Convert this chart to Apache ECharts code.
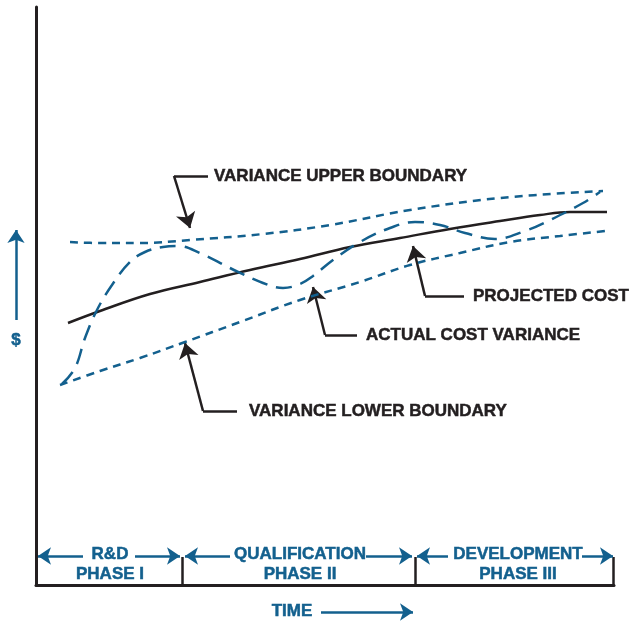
<!DOCTYPE html>
<html lang="en">
<head>
    <meta charset="UTF-8">
    <title>Cost variance</title>
    <style>
        html, body { margin: 0; height: 100%; background: #fff; overflow: hidden; }
        #main { width: 632px; height: 622px; }
    </style>
</head>
<body>
    <div id="main"></div>
    <script src="https://cdn.jsdelivr.net/npm/echarts@6/dist/echarts.min.js"></script>
    <script type="text/javascript">
        // x = time, y = cost (no scale on the original)
        const upperBoundary = [[34,343],[64,342],[104,342],[154,345],[227,351],[294,360],[374,375],[464,387],[567,394]]
        const lowerBoundary = [[24,200],[64,214],[104,227],[149,243],[204,263],[264,285],[324,303],[374,320],[424,332],[474,343],[524,349],[569,354]]
        const projectedCost = [[32,262],[64,274],[114,291],[164,303],[214,315],[264,326],[314,338],[364,347],[414,356],[464,364],[504,370],[534,373],[571,373]]
        const actualCost = [[26,201],[39,217],[49,247],[61,275],[76,300],[94,323],[109,333],[127,338],[142,339],[164,332],[194,317],[227,302],[247,297],[264,301],[277,309],[297,325],[324,343],[354,357],[379,363],[404,360],[429,352],[459,346],[489,354],[514,365],[547,382],[564,393]]

        // phases along the time axis
        const phaseEnds = [146, 379, 577]
        const phaseTop = ['R&D', 'QUALIFICATION', 'DEVELOPMENT']
        const phaseBottom = ['PHASE I', 'PHASE II', 'PHASE III']
        const phaseCenters = [74, 264, 482]

        // callouts: text, leader (start, elbow, tip)
        const callouts = [
            { text: 'VARIANCE UPPER BOUNDARY', at: [178, 409], leader: [[172,409],[138,409],[154,357]] },
            { text: 'PROJECTED COST', at: [437, 289], leader: [[428,289],[389,289],[377,339]] },
            { text: 'ACTUAL COST VARIANCE', at: [330, 250], leader: [[321,250],[289,250],[277,298]] },
            { text: 'VARIANCE LOWER BOUNDARY', at: [213, 174], leader: [[201,174],[167,174],[149,242]] }
        ]

        const BLUE = '#13608e'
        const INK = '#231f20'
        const FONT = 'bold 17px "Liberation Sans", Arial, sans-serif'

        var myChart = echarts.init(document.getElementById('main'));

        // blue phase arrows, each [from, tip]
        const phaseArrows = [
            [[47,29],[2,29]], [[99,29],[144,29]],
            [[194,29],[149,29]], [[330,29],[376,29]],
            [[412,29],[381,29]], [[546,29],[577,29]]
        ]

        var option = {
            animation: false,
            grid: { left: 36, right: 18, top: 7, bottom: 37 },
            xAxis: {
                type: 'value', min: 0, max: 578,
                axisLine: { show: true, onZero: false, lineStyle: { color: INK, width: 3 } },
                axisTick: { show: false }, axisLabel: { show: false }, splitLine: { show: false }
            },
            yAxis: {
                type: 'value', min: 0, max: 578,
                axisLine: { show: true, onZero: false, lineStyle: { color: INK, width: 3 } },
                axisTick: { show: false }, axisLabel: { show: false }, splitLine: { show: false }
            },
            series: [
                {
                    name: 'upper', type: 'line', data: upperBoundary, smooth: 0.4, showSymbol: false,
                    lineStyle: { color: BLUE, width: 2.5, type: [8, 6] }
                },
                {
                    name: 'lower', type: 'line', data: lowerBoundary, smooth: 0.4, showSymbol: false,
                    lineStyle: { color: BLUE, width: 2.5, type: [8, 6] }
                },
                {
                    name: 'projected', type: 'line', data: projectedCost, smooth: 0.4, showSymbol: false,
                    lineStyle: { color: INK, width: 2.5 }
                },
                {
                    name: 'actual', type: 'line', data: actualCost, smooth: 0.4, showSymbol: false,
                    lineStyle: { color: BLUE, width: 2.5, type: [16, 9] }
                },
                {
                    // phase dividers
                    type: 'lines', coordinateSystem: 'cartesian2d', clip: false,
                    lineStyle: { color: INK, width: 2.5, opacity: 1 },
                    data: phaseEnds.map(x => ({ coords: [[x, 0], [x, 28]] }))
                },
                {
                    type: 'lines', coordinateSystem: 'cartesian2d', clip: false,
                    symbol: ['none', 'arrow'], symbolSize: [11, 13],
                    lineStyle: { color: BLUE, width: 2.5, opacity: 1 },
                    data: phaseArrows.map(a => ({ coords: a }))
                        .concat([{ coords: [[285, -27], [377, -27]] }, { coords: [[-20, 265], [-20, 355]] }])
                },
                {
                    // callout leaders: flat part
                    type: 'lines', coordinateSystem: 'cartesian2d', clip: false,
                    lineStyle: { color: INK, width: 2.5, opacity: 1 },
                    data: callouts.map(c => ({ coords: [c.leader[0], c.leader[1]] }))
                },
                {
                    // callout leaders: slanted part with arrow head
                    type: 'lines', coordinateSystem: 'cartesian2d', clip: false,
                    symbol: ['none', 'arrow'], symbolSize: [12, 15],
                    lineStyle: { color: INK, width: 2.5, opacity: 1 },
                    data: callouts.map(c => ({ coords: [c.leader[1], c.leader[2]] }))
                }
            ]
        };
        myChart.setOption(option);

        // texts placed through the grid's own scale
        const px = p => myChart.convertToPixel({ gridIndex: 0 }, p)
        const graphics = []
        callouts.forEach(c => {
            const p = px(c.at)
            graphics.push({ type: 'text', x: p[0], y: p[1], style: { text: c.text, font: FONT, fill: INK, stroke: INK, lineWidth: 0.5, verticalAlign: 'middle' } })
        })
        phaseCenters.forEach((cx, i) => {
            const a = px([cx, 31]), b = px([cx, 11])
            graphics.push({ type: 'text', x: a[0], y: a[1], style: { text: phaseTop[i], font: FONT, fill: BLUE, stroke: BLUE, lineWidth: 0.5, align: 'center', verticalAlign: 'middle' } })
            graphics.push({ type: 'text', x: b[0], y: b[1], style: { text: phaseBottom[i], font: FONT, fill: BLUE, stroke: BLUE, lineWidth: 0.5, align: 'center', verticalAlign: 'middle' } })
        })
        const t = px([256, -26]), d = px([-20, 245])
        graphics.push({ type: 'text', x: t[0], y: t[1], style: { text: 'TIME', font: FONT, fill: BLUE, stroke: BLUE, lineWidth: 0.5, align: 'center', verticalAlign: 'middle' } })
        graphics.push({ type: 'text', x: d[0], y: d[1], style: { text: '$', font: FONT, fill: BLUE, stroke: BLUE, lineWidth: 0.5, align: 'center', verticalAlign: 'middle' } })
        myChart.setOption({ graphic: graphics })
    </script>
</body>
</html>
